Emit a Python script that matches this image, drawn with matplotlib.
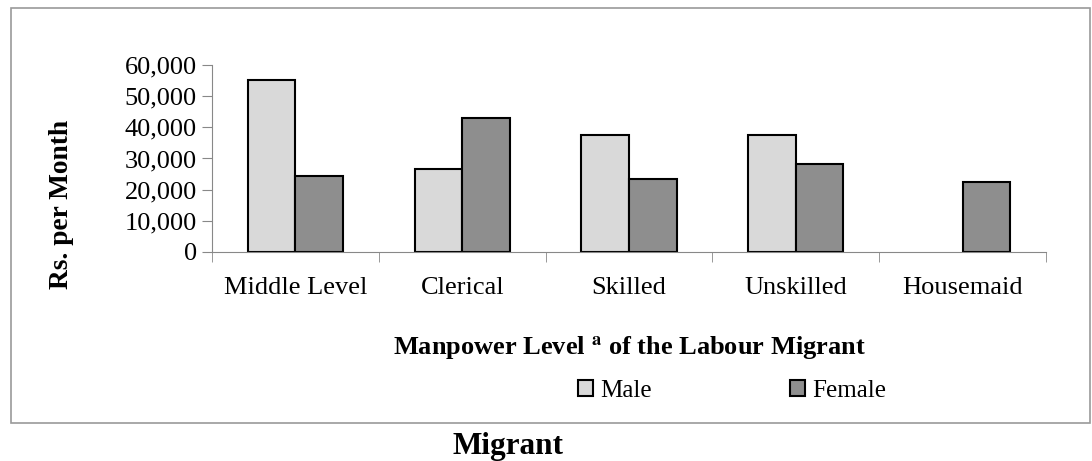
import numpy as np
import matplotlib.pyplot as plt
from matplotlib.patches import Rectangle

plt.rcParams['font.family'] = ['Liberation Serif', 'DejaVu Serif']
plt.rcParams['mathtext.fontset'] = 'stix'

levels = ["Middle Level", "Clerical", "Skilled", "Unskilled", "Housemaid"]
male = [55200, 26700, 37600, 37400, np.nan]   # no male housemaids
female = [24500, 42900, 23500, 28200, 22400]
yticks = [0, 10000, 20000, 30000, 40000, 50000, 60000]

W, H = 1092, 461
fig = plt.figure(figsize=(W / 100, H / 100), dpi=100)
ax = fig.add_axes([212 / W, 1 - 252 / H, 834 / W, 187 / H])

# outer frame of the chart area
fig.patches.append(Rectangle((11 / W, 1 - 423 / H), 1079 / W, 415 / H,
                             transform=fig.transFigure, fill=False,
                             edgecolor='#9a9a9a', linewidth=1.2))

x = np.arange(len(levels))
w = 0.285
ax.bar(x - w / 2, male, w, color='#d9d9d9', edgecolor='black', linewidth=1.5, label='Male')
ax.bar(x + w / 2, female, w, color='#8e8e8e', edgecolor='black', linewidth=1.5, label='Female')

ax.set_xlim(-0.5, len(levels) - 0.5)
ax.set_ylim(0, 60000)
ax.set_yticks(yticks)
ax.set_yticklabels([f"{v:,}" for v in yticks], fontsize=19)
ax.set_xticks(x)
ax.set_xticklabels(levels, fontsize=19)
ax.set_xticks(np.arange(len(levels) + 1) - 0.5, minor=True)
ax.tick_params(axis='x', which='major', length=0, pad=18)
ax.tick_params(axis='x', which='minor', length=7, color='#888888')
ax.tick_params(axis='y', length=7, color='#888888', pad=4)

for s in ['top', 'right']:
    ax.spines[s].set_visible(False)
ax.spines['left'].set_color('#888888')
ax.spines['bottom'].set_color('#888888')

fig.text(61 / W, 1 - 204 / H, "Rs. per Month", rotation=90, ha='center', va='center',
         fontsize=19.7, fontweight='bold')

fig.text(629 / W, 1 - 349 / H, r"Manpower Level $^{\mathbf{a}}$ of the Labour Migrant",
         ha='center', va='center', fontsize=19, fontweight='bold')

fig.legend(loc='center left', bbox_to_anchor=(578 / W, 1 - 391 / H), ncol=2,
           frameon=False, fontsize=18, handlelength=0.6, handleheight=0.6,
           handletextpad=0.3, columnspacing=5.5, borderpad=0, borderaxespad=0)

fig.text(508 / W, 1 - 446 / H, "Migrant", ha='center', va='center',
         fontsize=22.5, fontweight='bold')

fig.savefig("out.png", dpi=100)
